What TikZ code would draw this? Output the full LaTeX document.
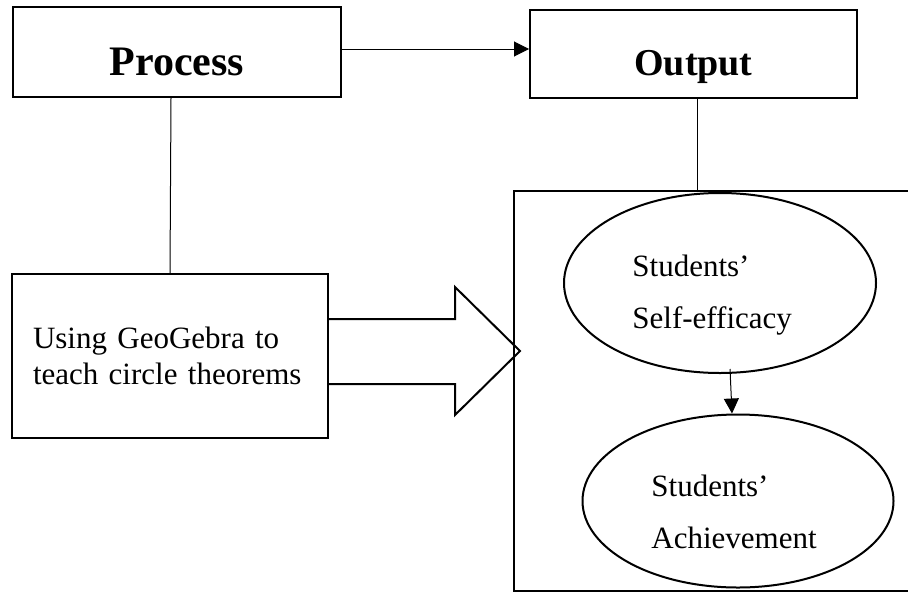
\documentclass[tikz,border=0pt]{standalone}
\usepackage{fontspec}
\setmainfont{Liberation Serif}
\usetikzlibrary{shapes.geometric,arrows.meta}

\begin{document}
\begin{tikzpicture}[x=0.5pt,y=-0.5pt,
box/.style={draw,rectangle,line width=1pt,inner sep=0pt},
oval/.style={draw,ellipse,line width=1pt,inner sep=0pt},
txt/.style={align=left,inner sep=0pt,font={\fontsize{15.5}{26}\selectfont}},
arr/.style={line width=0.5pt,-{Triangle[length=7.5pt,width=7.5pt]}}]
\useasboundingbox (0,0) rectangle (908,594);

\node (proc) [box,minimum width=164pt,minimum height=45pt,
    text height=23pt,text depth=0pt,
    font={\fontsize{21}{24}\selectfont\bfseries}] at (177,52) {Process};
\node (outp) [box,minimum width=163.5pt,minimum height=44pt,
    text height=21pt,text depth=0pt,
    font={\fontsize{19}{22}\selectfont\bfseries}] at (693.5,54) {Output};
\node (teach) [box,minimum width=158pt,minimum height=82pt,
    text width=137pt,align=left,
    font={\fontsize{15.5}{18}\selectfont}] at (170,356)
    {Using GeoGebra to\\teach circle theorems};
\node (frame) [box,minimum width=200.5pt,minimum height=200pt] at (714.5,391) {};

\node (eff) [oval,minimum width=156pt,minimum height=90pt] at (720,283) {};
\node (efftxt) [txt,anchor=base west] at (632,328) {Students’\\Self-efficacy};
\node (ach) [oval,minimum width=155.5pt,minimum height=86.5pt] at (738,501) {};
\node (achtxt) [txt,anchor=base west] at (651,548) {Students’\\Achievement};

% connectors
\draw [arr] ([yshift=1.5pt]proc.east) -- ([yshift=1.5pt]proc.east -| outp.west);
\draw [line width=0.5pt] ([xshift=-3pt]proc.south) -- (teach.north);
\draw [line width=0.5pt] ([xshift=2pt]outp.south) -- ([xshift=2pt]outp.south |- frame.north);
\draw [arr] ([xshift=5pt,yshift=2.5pt]eff.south) -- ([xshift=-3pt]ach.north);

% big hollow arrow
\draw [line width=1pt,line join=miter] (teach.east |- 0,319) -- (455,319) -- (455,287)
    -- (520,351) -- (455,415) -- (455,384) -- (teach.east |- 0,384);
\end{tikzpicture}
\end{document}
